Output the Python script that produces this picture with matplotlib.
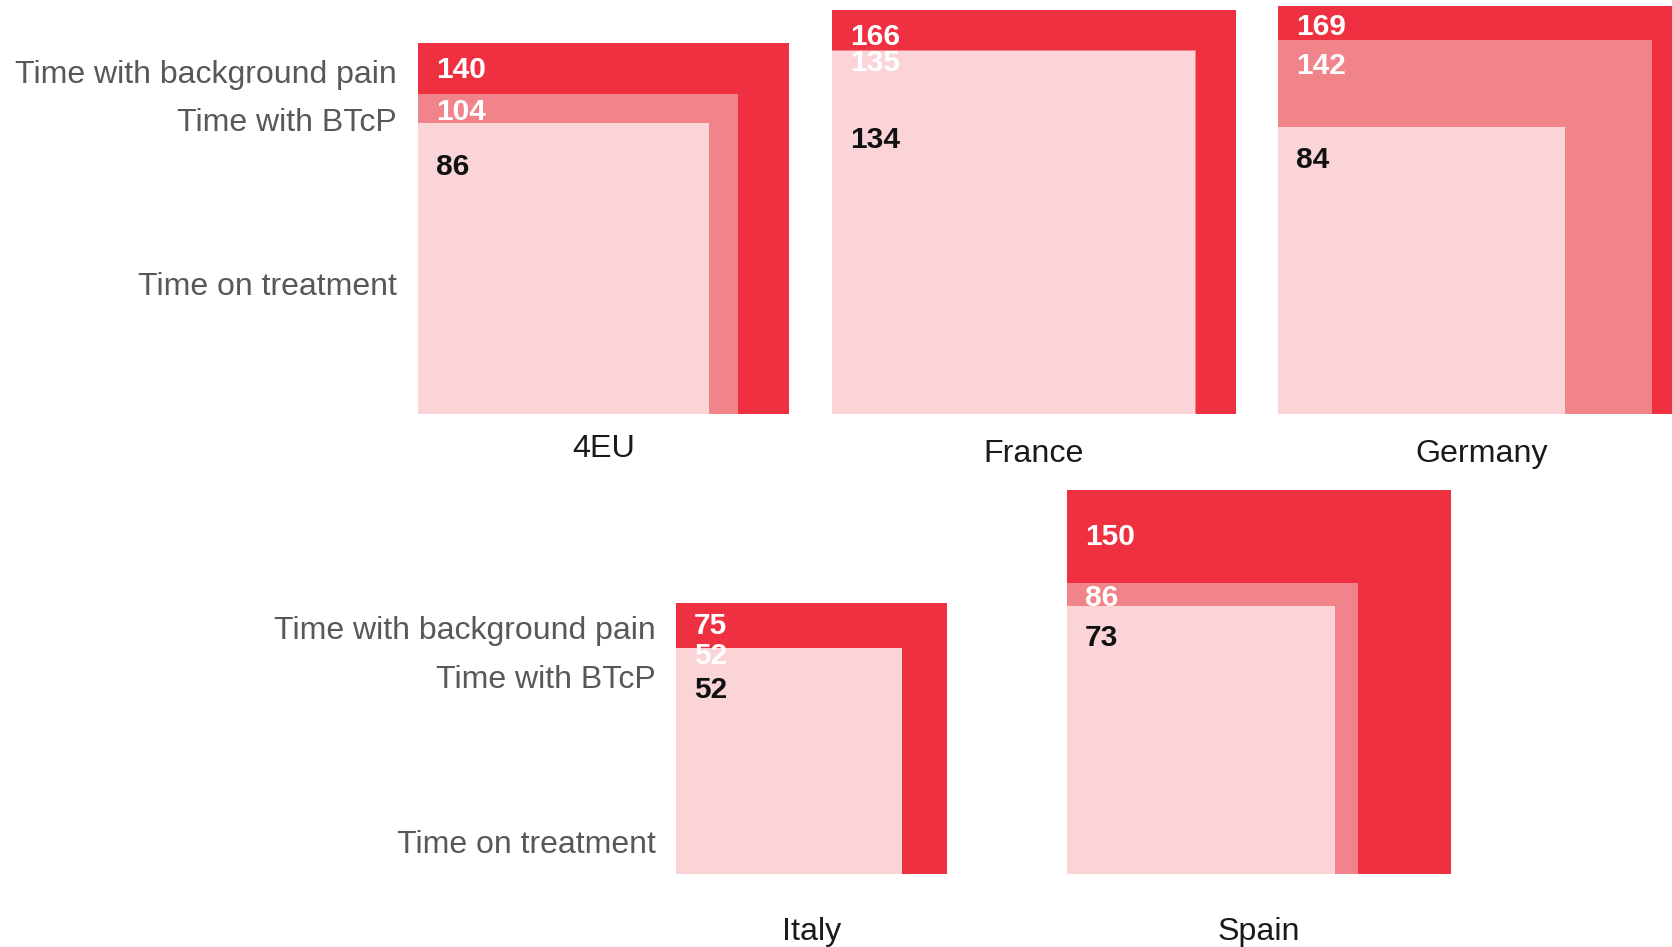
import numpy as np
import matplotlib
matplotlib.use("Agg")
import matplotlib.pyplot as plt
from matplotlib.patches import Rectangle

plt.rcParams["font.family"] = ["Liberation Sans", "DejaVu Sans"]

# Mean time (days) per market
regions = ["4EU", "France", "Germany", "Italy", "Spain"]
background_pain = [140, 166, 169, 75, 150]
btcp = [104, 135, 142, 52, 86]
treatment = [86, 134, 84, 52, 73]

series_names = ["Time with background pain", "Time with BTcP", "Time on treatment"]
series_colors = ["#EF3040", "#F1838A", "#FBD4D7"]
value_colors = ["white", "white", "#111111"]

# Square placement (pixel canvas): bottom-left anchor of every nested set
anchor_x = [418, 832, 1278, 676, 1067]
anchor_base = [414, 414, 414, 874, 874]
px_per_root = 31.35  # side length = px_per_root * sqrt(value) -> area ~ value

# vertical offset of each value label below the top edge of its square
label_dy = [
    [27, 18, 44],
    [27, 13, 89],
    [21, 26, 33],
    [23, 8, 42],
    [47, 15, 32],
]
region_label_y = [449, 454, 454, 932, 932]

# series legends to the left of each row
row_label_x = [397, 656]
row_label_y = [[75, 123, 287], [631, 680, 845]]

W, H = 1672, 947
fig = plt.figure(figsize=(W / 100, H / 100), dpi=100)
ax = fig.add_axes([0, 0, 1, 1])
ax.set_xlim(0, W)
ax.set_ylim(H, 0)
ax.axis("off")

for i, region in enumerate(regions):
    vals = [background_pain[i], btcp[i], treatment[i]]
    x0, base = anchor_x[i], anchor_base[i]
    sides = [px_per_root * np.sqrt(v) for v in vals]
    for j, (v, s) in enumerate(zip(vals, sides)):
        ax.add_patch(Rectangle((x0, base - s), s, s, facecolor=series_colors[j],
                               edgecolor="none", zorder=j + 1))
    for j, (v, s) in enumerate(zip(vals, sides)):
        ax.text(x0 + 18, base - s + label_dy[i][j], f"{v}", color=value_colors[j],
                fontsize=21.5, fontweight="bold", ha="left", va="center", zorder=10)
    ax.text(x0 + sides[0] / 2, region_label_y[i], region, color="#1a1a1a",
            fontsize=23.2, ha="center", va="center")

for r in range(2):
    for name, y in zip(series_names, row_label_y[r]):
        ax.text(row_label_x[r], y, name, color="#585858", fontsize=23,
                ha="right", va="center")

fig.savefig("out.png", dpi=100, facecolor="white")
